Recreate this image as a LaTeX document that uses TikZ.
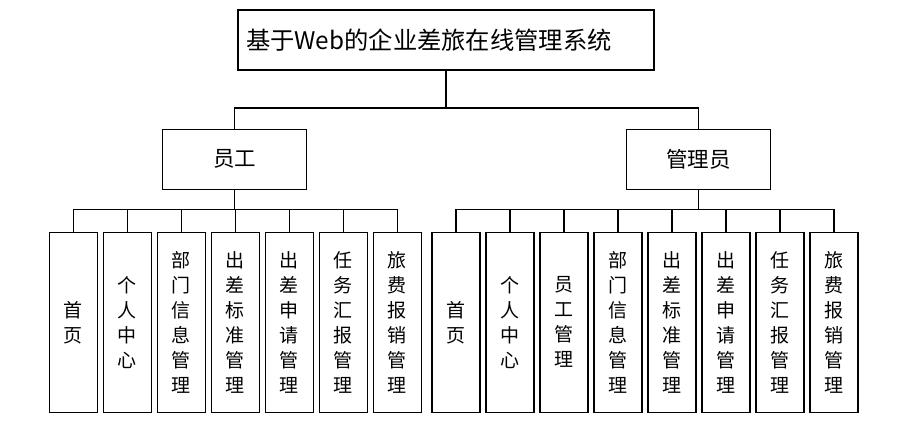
\documentclass[tikz,border=0pt]{standalone}
\usepackage{fontspec}
\setmainfont{Noto Sans CJK SC}
\usetikzlibrary{positioning}

\begin{document}
\begin{tikzpicture}[
    x=1pt, y=1pt,
    line width=1.3pt,
    root/.style={draw, minimum width=416pt, minimum height=60pt, text width=400pt,
        inner xsep=8pt, align=left, font=\fontsize{24.3}{28}\selectfont},
    role/.style={draw, minimum width=144pt, minimum height=60pt, font=\fontsize{21.5}{25}\selectfont},
    leaf/.style={draw, minimum width=48pt, minimum height=180pt, inner sep=0pt,
        align=center, font=\fontsize{19}{25}\selectfont}
]
\useasboundingbox (0,0) rectangle (916,-421);
\node[root] (sys) at (446,-40) {基于Web的企业差旅在线管理系统};
\node[role] (emp) at (234.7,-159.3) {员工};
\node[role] (adm) at (698.7,-159.3) {管理员};
\coordinate (tbus) at (446,-108);
\draw (sys.south) -- (tbus);
\draw (emp.north) |- (tbus);
\draw (adm.north) |- (tbus);
% employee side
\coordinate[below=19.5pt of emp] (ebus);
\draw (emp.south) -- (ebus);
\foreach \t [count=\i] in {{首\\页},{个\\人\\中\\心},{部\\门\\信\\息\\管\\理},
    {出\\差\\标\\准\\管\\理},{出\\差\\申\\请\\管\\理},{任\\务\\汇\\报\\管\\理},{旅\\费\\报\\销\\管\\理}} {
    \node[leaf, below=41.7pt of emp, xshift={(\i-1)*54pt-161.4pt}] (e\i) {\t};
    \draw (e\i.north) |- (ebus);
}
% admin side
\coordinate[below=19.5pt of adm] (abus);
\draw (adm.south) -- (abus);
\foreach \t [count=\i] in {{首\\页},{个\\人\\中\\心},{员\\工\\管\\理},{部\\门\\信\\息\\管\\理},
    {出\\差\\标\\准\\管\\理},{出\\差\\申\\请\\管\\理},{任\\务\\汇\\报\\管\\理},{旅\\费\\报\\销\\管\\理}} {
    \node[leaf, below=41.7pt of adm, xshift={(\i-1)*54pt-242.7pt}] (a\i) {\t};
    \draw (a\i.north) |- (abus);
}
\end{tikzpicture}
\end{document}
